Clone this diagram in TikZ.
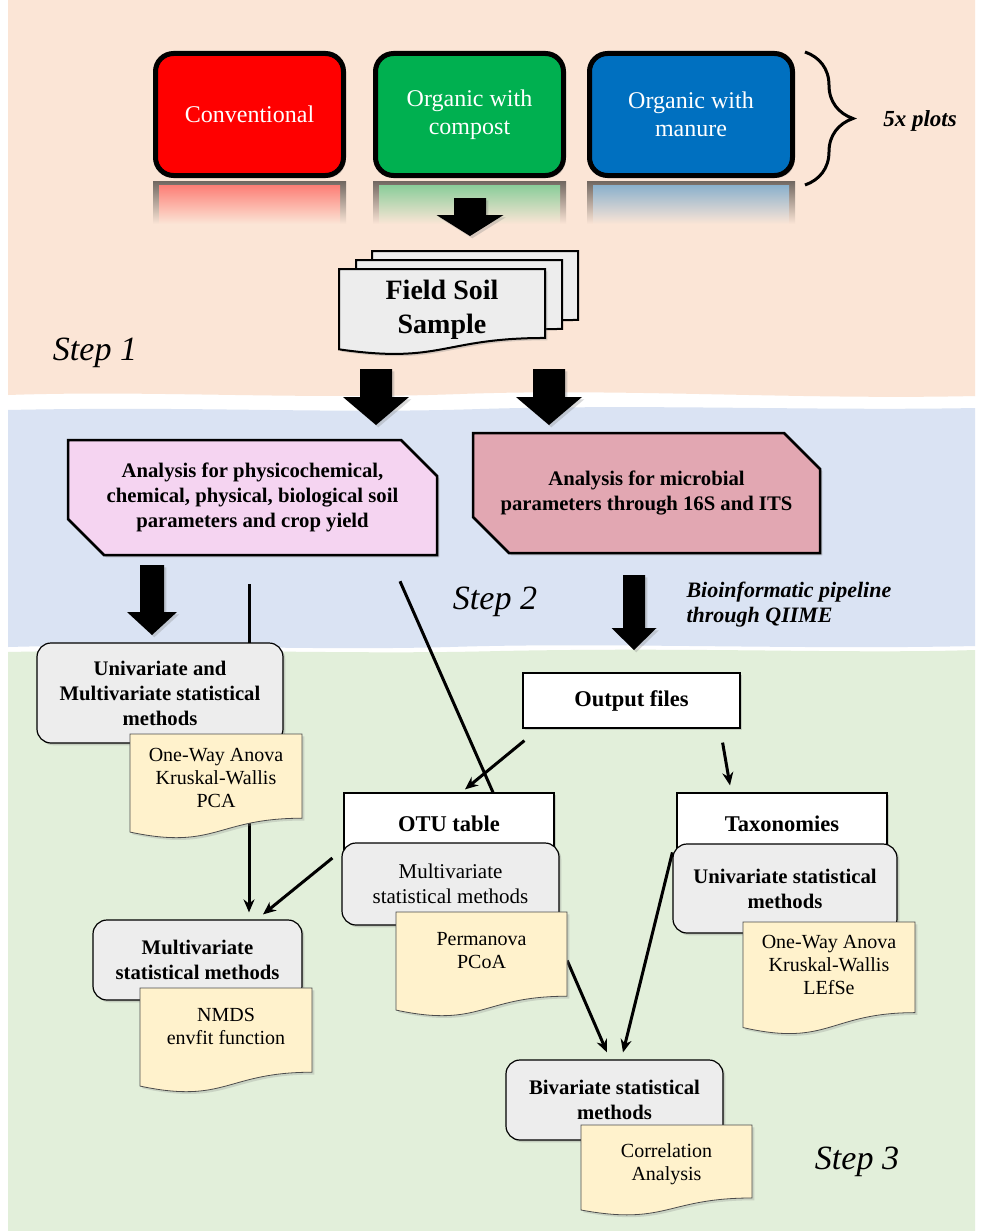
\documentclass[tikz,border=0pt]{standalone}
\usepackage{fontspec}
\setmainfont{Liberation Serif}
\usetikzlibrary{calc,arrows.meta,shapes.misc,shadows,decorations.pathreplacing}

\definecolor{bandpeach}{HTML}{FBE5D6}
\definecolor{bandblue}{HTML}{DAE3F3}
\definecolor{bandgreen}{HTML}{E2EFDA}
\definecolor{convred}{HTML}{FF0000}
\definecolor{orggreen}{HTML}{00B050}
\definecolor{orgblue}{HTML}{0070C0}
\definecolor{boxgray}{HTML}{EDEDED}
\definecolor{docyellow}{HTML}{FFF2CC}
\definecolor{physpink}{HTML}{F5D4F1}
\definecolor{micropink}{HTML}{E2A7B2}

\pgfdeclarelayer{bands}
\pgfdeclarelayer{links}
\pgfsetlayers{bands,links,main}

% document sheet with wavy bottom: [style] left, top, width, height
\newcommand{\docshape}[5][]{\filldraw[#1] (#2,#3) -- (#2+#4,#3) -- (#2+#4,#3+0.802*#5) .. controls (#2+0.5*#4,#3+0.802*#5) and (#2+0.5*#4,#3+1.1075*#5) .. (#2,#3+0.934*#5) -- cycle;}
% thick block arrow: from, to, shaft, head, head length
\newcommand{\bigarrow}[5]{\fill[black, drop shadow={opacity=0.3}] let \p1=(#1), \p2=(#2) in (\x1-#3/2,\y1) -- (\x1+#3/2,\y1) -- (\x1+#3/2,\y2+#5) -- (\x1+#4/2,\y2+#5) -- (\x1,\y2) -- (\x1-#4/2,\y2+#5) -- (\x1-#3/2,\y2+#5) -- cycle;}

\begin{document}
\begin{tikzpicture}[x=1pt, y=-1pt,
    topbox/.style={draw=black, line width=5pt, rounded corners=18pt, text=white, align=center, minimum height=122pt, font=\fontsize{24}{28}\selectfont, drop shadow={opacity=0.3}},
    snipbox/.style={chamfered rectangle, chamfered rectangle corners={north east,south west}, chamfered rectangle xsep=18pt, chamfered rectangle ysep=18pt, draw=black, line width=2.5pt, align=center, font=\bfseries\fontsize{20.7}{25}\selectfont, drop shadow={opacity=0.35}},
    graybox/.style={draw=black, line width=1.2pt, rounded corners=14pt, fill=boxgray, align=center, font=\bfseries\fontsize{20.7}{25}\selectfont, drop shadow={opacity=0.3}},
    headbox/.style={draw=black, line width=1.2pt, fill=white, font=\bfseries\fontsize{22.5}{27}\selectfont, drop shadow={opacity=0.3}},
    docfill/.style={fill=docyellow, draw=black!70, line width=0.8pt, drop shadow={opacity=0.25}},
    doctext/.style={align=center, font=\fontsize{20}{23}\selectfont},
    steplabel/.style={font=\itshape\fontsize{34}{40}\selectfont},
    link/.style={draw=black, line width=3pt},
    linkarrow/.style={link, -{Stealth[length=13pt,width=11pt]}}]

\useasboundingbox (0,0) rectangle (980,1231);

% background bands for the three steps
\begin{pgfonlayer}{bands}
\fill[white] (0,0) rectangle (980,1231);
\fill[bandpeach] (8,0) -- (975,0) -- (975,396) .. controls (800,400) and (620,388) .. (460,394) .. controls (300,400) and (150,390) .. (8,395) -- cycle;
\fill[bandblue] (8,410) .. controls (200,406) and (330,414) .. (480,409) .. controls (650,404) and (820,411) .. (975,408) -- (975,646) .. controls (800,650) and (600,642) .. (450,647) .. controls (300,651) and (150,643) .. (8,647) -- cycle;
\fill[bandgreen] (8,652) .. controls (200,648) and (350,655) .. (500,651) .. controls (700,647) and (850,654) .. (975,650) -- (975,1231) -- (8,1231) -- cycle;
\end{pgfonlayer}

% step 1
\foreach \xa/\xb/\col in {153/346/convred, 373/566/orggreen, 587/795/orgblue} {
  \shade[top color=black!55!bandpeach, bottom color=bandpeach] (\xa,181) rectangle (\xb,224);
  \shade[top color=\col!45!bandpeach, bottom color=bandpeach] (\xa+6,185) rectangle (\xb-6,224);
}
\node[topbox, fill=convred, minimum width=188pt] (conv) at (249.5,114.5) {Conventional};
\node[topbox, fill=orggreen, minimum width=188pt] (compost) at (469.5,114.5) {Organic with\\compost};
\node[topbox, fill=orgblue, minimum width=203pt] (manure) at (691,114.5) {Organic with\\manure};

\draw[line width=3pt, decorate, decoration={brace, amplitude=48pt}] (805,52) -- (805,185);
\node[font=\bfseries\itshape\fontsize{23}{27}\selectfont] (plots) at (920,121) {5x plots};

\coordinate (ar1a) at (470,198);
\coordinate (ar1b) at (470,236);
\bigarrow{ar1a}{ar1b}{32}{67}{21}

\docshape[fill=boxgray, draw=black, line width=2pt]{372}{251}{206}{86}
\docshape[fill=boxgray, draw=black, line width=2pt]{356}{260}{206}{86}
\docshape[fill=boxgray, draw=black, line width=2pt, drop shadow={opacity=0.3}]{339}{269}{206}{86}
\node[align=center, font=\bfseries\fontsize{28}{34}\selectfont] (field) at (442,310) {Field Soil\\Sample};

\node[steplabel] (step1) at (95,353) {Step 1};

% step 2
\coordinate (ar2a) at (376,369);
\coordinate (ar2b) at (376,425);
\coordinate (ar3a) at (549,369);
\coordinate (ar3b) at (549,425);
\bigarrow{ar2a}{ar2b}{32}{66}{28}
\bigarrow{ar3a}{ar3b}{32}{66}{28}

\node[snipbox, fill=physpink, minimum width=369pt, minimum height=115pt] (phys) at (252.5,497.5) {Analysis for physicochemical,\\chemical, physical, biological soil\\parameters and crop yield};
\node[snipbox, fill=micropink, minimum width=347pt, minimum height=120pt] (micro) at (646.5,493) {Analysis for microbial\\parameters through 16S and ITS};

\coordinate (ar4a) at (152,565);
\coordinate (ar4b) at (152,635);
\coordinate (ar5a) at (634,575);
\coordinate (ar5b) at (634,650);
\bigarrow{ar4a}{ar4b}{24}{50}{23}
\bigarrow{ar5a}{ar5b}{22}{45}{22}

\node[steplabel] (step2) at (495,602) {Step 2};
\node[anchor=west, align=left, font=\bfseries\itshape\fontsize{22}{25}\selectfont] (qiime) at (683,605) {Bioinformatic pipeline\\through QIIME};

% step 3
\node[graybox, minimum width=246pt, minimum height=100pt] (unimv) at (160,693) {Univariate and\\Multivariate statistical\\methods};
\docshape[docfill]{130}{734}{172}{105}
\node[doctext, minimum width=172pt] (anova1) at (216,778) {One-Way Anova\\Kruskal-Wallis\\PCA};

\node[headbox, minimum width=217pt, minimum height=55pt] (outfiles) at (631.5,700.5) {Output files};

\node[headbox, minimum width=210pt, minimum height=62pt] (otutab) at (449,824) {OTU table};
\node[graybox, font=\fontsize{21}{25}\selectfont, minimum width=217pt, minimum height=82pt] (otumv) at (450.5,884) {Multivariate\\statistical methods};
\docshape[docfill]{396}{912}{171}{105}
\node[doctext, minimum width=171pt] (perm) at (481.5,950.5) {Permanova\\PCoA};

\node[headbox, minimum width=210pt, minimum height=62pt] (taxa) at (782,824) {Taxonomies};
\node[graybox, minimum width=224pt, minimum height=89pt] (taxmv) at (785,888.5) {Univariate statistical\\methods};
\docshape[docfill]{743}{922}{172}{113}
\node[doctext, minimum width=172pt] (anova2) at (829,965) {One-Way Anova\\Kruskal-Wallis\\LEfSe};

\node[graybox, minimum width=209pt, minimum height=80pt] (mvstat) at (197.5,960) {Multivariate\\statistical methods};
\docshape[docfill]{140}{988}{172}{105}
\node[doctext, minimum width=172pt] (nmds) at (226,1026.5) {NMDS\\envfit function};

\node[graybox, minimum width=217pt, minimum height=80pt] (bivar) at (614.5,1100) {Bivariate statistical\\methods};
\docshape[docfill]{581}{1125}{171}{91}
\node[doctext, minimum width=171pt] (corr) at (666.5,1164) {Correlation\\Analysis};

\node[steplabel] (step3) at (857,1162) {Step 3};

% connectors
\begin{pgfonlayer}{links}
\draw[linkarrow] ($(phys.south)+(-3.5,28)$) -- ($(mvstat.north)+(51.5,-7)$);
\draw[link] ($(phys.south)+(147.5,25)$) -- ($(otutab.north)+(44,0)$);
\draw[linkarrow] ($(outfiles.south west)+(2,12)$) -- ($(otutab.north)+(16,-3)$);
\draw[linkarrow] ($(outfiles.south east)+(-18,14)$) -- ($(taxa.north)+(-52,-7)$);
\draw[linkarrow] ($(otumv.west)+(-9,-26)$) -- ($(mvstat.north)+(65.5,-5)$);
\draw[linkarrow] ($(perm.east)+(0,10)$) -- ($(bivar.north)+(-7.5,-7)$);
\draw[linkarrow] ($(taxmv.north west)+(0,9)$) -- ($(bivar.north)+(8.5,-7)$);
\end{pgfonlayer}

\end{tikzpicture}
\end{document}
